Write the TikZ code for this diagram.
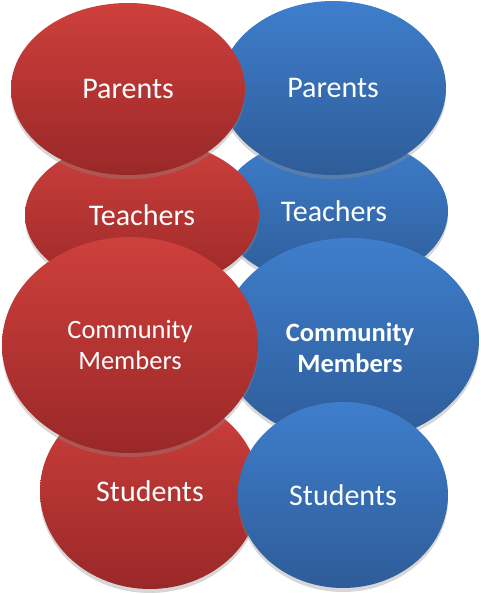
\documentclass[tikz,border=0pt]{standalone}
\usepackage{fontspec}
\setmainfont{Carlito}
\usepackage{tikz}
\usetikzlibrary{shapes.geometric,shadows}

\definecolor{redtop}{RGB}{206,64,60}
\definecolor{redbot}{RGB}{154,40,40}
\definecolor{bluetop}{RGB}{62,126,204}
\definecolor{bluebot}{RGB}{46,92,152}

\begin{document}
\begin{tikzpicture}[x=1pt,y=-1pt,
	bub/.style={ellipse,inner sep=0pt,text=white,font=\fontsize{30}{34}\selectfont,align=center,
		drop shadow={shadow xshift=0pt,shadow yshift=-4pt,opacity=0.35,fill=black!45}},
	redbub/.style={bub,top color=redtop,bottom color=redbot},
	bluebub/.style={bub,top color=bluetop,bottom color=bluebot},
	smalltxt/.style={font=\fontsize{26.5}{31}\selectfont}]
		\useasboundingbox (0,0) rectangle (481,594);
		% back row first, front row last
		\node[bluebub,minimum width=228pt,minimum height=150pt] (bTea) at (334,211) {Teachers};
		\node[redbub,minimum width=234pt,minimum height=152pt] (rTea) at (142,215) {Teachers};
		\node[bluebub,minimum width=226pt,minimum height=174pt] (bPar) at (333,88) {Parents};
		\node[redbub,minimum width=234pt,minimum height=172pt] (rPar) at (128,89) {Parents};
		\node[redbub,minimum width=220pt,minimum height=196pt] (rStu) at (150,491) {Students};
		\node[bluebub,minimum width=258pt,minimum height=204pt,
			label={[text=white,smalltxt,align=center,yshift=-8pt]center:\bfseries Community\\\bfseries Members}] (bCom) at (350,340) {};
		\node[redbub,smalltxt,minimum width=256pt,minimum height=216pt] (rCom) at (130,345) {Community\\Members};
		\node[bluebub,minimum width=210pt,minimum height=186pt] (bStu) at (343,495) {Students};
\end{tikzpicture}
\end{document}
